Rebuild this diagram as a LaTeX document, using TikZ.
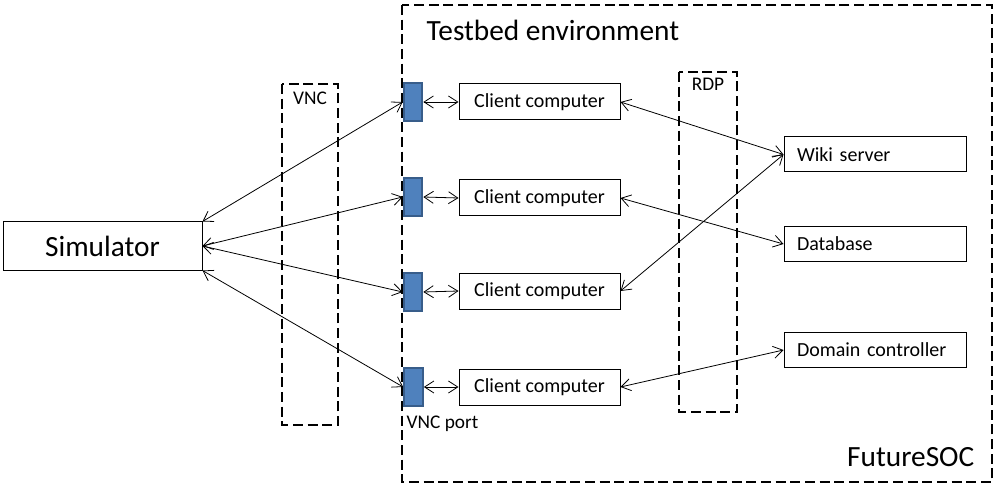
\documentclass[tikz,border=0pt]{standalone}
\usepackage{fontspec}
\setmainfont{Carlito}
\usetikzlibrary{arrows.meta}
\definecolor{portfill}{RGB}{79,129,189}
\definecolor{portline}{RGB}{56,93,138}
\tikzset{
	box/.style={draw, line width=0.75pt, font=\fontsize{15}{18}\selectfont},
	clientbox/.style={box, minimum width=120.75pt, minimum height=27pt},
	serverbox/.style={box, text width=117pt, inner xsep=9.75pt, minimum height=26.25pt, align=left},
	port/.style={draw=portline, fill=portfill, line width=1.5pt, minimum width=14pt, minimum height=28pt, inner sep=0pt},
	dashbox/.style={line width=1.6pt, dash pattern=on 7.5pt off 3.5pt},
	biglabel/.style={font=\fontsize{22}{26}\selectfont},
	smalllabel/.style={font=\fontsize{14.5}{17}\selectfont},
	conn/.style={{Straight Barb[length=7pt,width=9pt]}-{Straight Barb[length=7pt,width=9pt]}, line width=0.6pt}
}

\begin{document}
\begin{tikzpicture}[x=0.75pt, y=-0.75pt]
			%%%%% FRAME %%%%%
			\useasboundingbox (0, 0) rectangle (1002, 488);
			
			\draw[dashbox] (402, 5) rectangle (992, 482);
			\node[biglabel, anchor=base west] (testbed) at (422, 41) {Testbed environment};
			\node[biglabel, anchor=base east] (futuresoc) at (979, 466) {FutureSOC};
			
			\draw[dashbox] (282, 84) rectangle (338, 425);
			\node[smalllabel] (vnc) at (310, 98) {VNC};
			\draw[dashbox] (679, 72) rectangle (737, 412);
			\node[smalllabel] (rdp) at (708, 84) {RDP};
			
			%%%%% NODES %%%%%
			\node[box, minimum width=149.25pt, minimum height=36pt, font=\fontsize{22}{26}\selectfont] (simulator) at (102.5, 246) {Simulator};
			
			\node[port] (port1) at (413, 102) {};
			\node[port] (port2) at (413, 197) {};
			\node[port] (port3) at (413, 292) {};
			\node[port] (port4) at (413.5, 387) {};
			\node[smalllabel, anchor=west] (vncport) at (402, 424) {VNC port};
			
			\node[clientbox] (client1) at (539.5, 102) {Client computer};
			\node[clientbox] (client2) at (539.5, 198) {Client computer};
			\node[clientbox] (client3) at (539.5, 291) {Client computer};
			\node[clientbox] (client4) at (539.5, 387) {Client computer};
			
			\node[serverbox] (wiki) at (875, 154.5) {Wiki server};
			\node[serverbox] (database) at (875, 244) {Database};
			\node[serverbox] (domain) at (875, 350) {Domain controller};
			
			%%%%% CONNECTIONS %%%%%
			\draw[conn] (simulator.north east) -- (port1.west);
			\draw[conn] (simulator.east) -- (port2.west);
			\draw[conn] (simulator.east) -- (port3.west);
			\draw[conn] (simulator.south east) -- (port4.west);
			
			\draw[conn] (port1.east) -- (client1.west);
			\draw[conn] (port2.east) -- (client2.west);
			\draw[conn] (port3.east) -- (client3.west);
			\draw[conn] (port4.east) -- (client4.west);
			
			\draw[conn] (client1.east) -- (wiki.west);
			\draw[conn] (client2.east) -- (database.west);
			\draw[conn] (client3.east) -- (wiki.west);
			\draw[conn] (client4.east) -- (domain.west);
			
			%%%%% END %%%%%
\end{tikzpicture}
\end{document}
